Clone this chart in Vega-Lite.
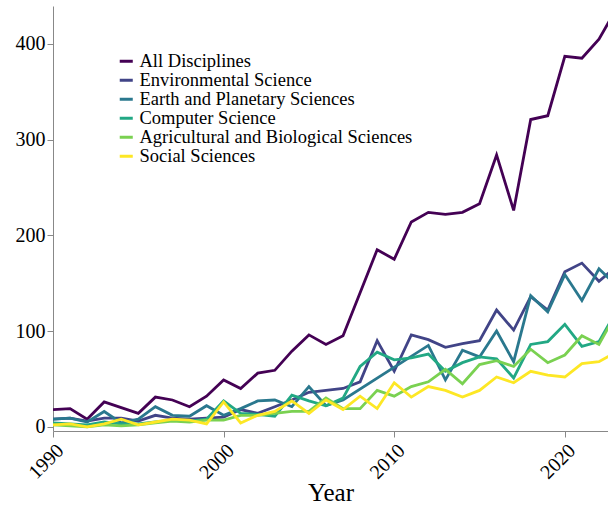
{
  "$schema": "https://vega.github.io/schema/vega-lite/v6.json",
  "autosize": {"type": "none"},
  "padding": {"left": 53, "top": 6, "right": 0, "bottom": 74},
  "width": 555,
  "height": 425,
  "background": "white",
  "config": {
    "font": "Liberation Serif",
    "axis": {"labelFont": "Liberation Serif", "titleFont": "Liberation Serif"},
    "legend": {"labelFont": "Liberation Serif", "titleFont": "Liberation Serif"},
    "view": {"stroke": null}
  },
  "data": {
    "values": [
      {"Year": 1990, "All Disciplines": 18, "Environmental Science": 8, "Earth and Planetary Sciences": 8, "Computer Science": 4, "Agricultural and Biological Sciences": 2, "Social Sciences": 2},
      {"Year": 1991, "All Disciplines": 19, "Environmental Science": 9, "Earth and Planetary Sciences": 9, "Computer Science": 3, "Agricultural and Biological Sciences": 1, "Social Sciences": 3},
      {"Year": 1992, "All Disciplines": 8, "Environmental Science": 6, "Earth and Planetary Sciences": 5, "Computer Science": 2, "Agricultural and Biological Sciences": 0, "Social Sciences": 0},
      {"Year": 1993, "All Disciplines": 26, "Environmental Science": 9, "Earth and Planetary Sciences": 16, "Computer Science": 5, "Agricultural and Biological Sciences": 2, "Social Sciences": 3},
      {"Year": 1994, "All Disciplines": 20, "Environmental Science": 9, "Earth and Planetary Sciences": 4, "Computer Science": 3, "Agricultural and Biological Sciences": 1, "Social Sciences": 8},
      {"Year": 1995, "All Disciplines": 14, "Environmental Science": 6, "Earth and Planetary Sciences": 8, "Computer Science": 3, "Agricultural and Biological Sciences": 2, "Social Sciences": 2},
      {"Year": 1996, "All Disciplines": 31, "Environmental Science": 12, "Earth and Planetary Sciences": 21, "Computer Science": 5, "Agricultural and Biological Sciences": 4, "Social Sciences": 5},
      {"Year": 1997, "All Disciplines": 28, "Environmental Science": 9, "Earth and Planetary Sciences": 12, "Computer Science": 7, "Agricultural and Biological Sciences": 6, "Social Sciences": 8},
      {"Year": 1998, "All Disciplines": 21, "Environmental Science": 8, "Earth and Planetary Sciences": 11, "Computer Science": 6, "Agricultural and Biological Sciences": 5, "Social Sciences": 7},
      {"Year": 1999, "All Disciplines": 32, "Environmental Science": 9, "Earth and Planetary Sciences": 22, "Computer Science": 8, "Agricultural and Biological Sciences": 7, "Social Sciences": 3},
      {"Year": 2000, "All Disciplines": 49, "Environmental Science": 10, "Earth and Planetary Sciences": 12, "Computer Science": 27, "Agricultural and Biological Sciences": 7, "Social Sciences": 26},
      {"Year": 2001, "All Disciplines": 40, "Environmental Science": 18, "Earth and Planetary Sciences": 19, "Computer Science": 14, "Agricultural and Biological Sciences": 12, "Social Sciences": 4},
      {"Year": 2002, "All Disciplines": 56, "Environmental Science": 14, "Earth and Planetary Sciences": 27, "Computer Science": 13, "Agricultural and Biological Sciences": 12, "Social Sciences": 12},
      {"Year": 2003, "All Disciplines": 59, "Environmental Science": 21, "Earth and Planetary Sciences": 28, "Computer Science": 11, "Agricultural and Biological Sciences": 14, "Social Sciences": 16},
      {"Year": 2004, "All Disciplines": 79, "Environmental Science": 28, "Earth and Planetary Sciences": 21, "Computer Science": 33, "Agricultural and Biological Sciences": 16, "Social Sciences": 27},
      {"Year": 2005, "All Disciplines": 96, "Environmental Science": 36, "Earth and Planetary Sciences": 42, "Computer Science": 27, "Agricultural and Biological Sciences": 16, "Social Sciences": 14},
      {"Year": 2006, "All Disciplines": 86, "Environmental Science": 38, "Earth and Planetary Sciences": 22, "Computer Science": 22, "Agricultural and Biological Sciences": 30, "Social Sciences": 28},
      {"Year": 2007, "All Disciplines": 95, "Environmental Science": 40, "Earth and Planetary Sciences": 28, "Computer Science": 30, "Agricultural and Biological Sciences": 19, "Social Sciences": 18},
      {"Year": 2008, "All Disciplines": 140, "Environmental Science": 47, "Earth and Planetary Sciences": null, "Computer Science": 63, "Agricultural and Biological Sciences": 19, "Social Sciences": 32},
      {"Year": 2009, "All Disciplines": 185, "Environmental Science": 90, "Earth and Planetary Sciences": null, "Computer Science": 78, "Agricultural and Biological Sciences": 38, "Social Sciences": 19},
      {"Year": 2010, "All Disciplines": 175, "Environmental Science": 58, "Earth and Planetary Sciences": null, "Computer Science": 70, "Agricultural and Biological Sciences": 32, "Social Sciences": 46},
      {"Year": 2011, "All Disciplines": 214, "Environmental Science": 96, "Earth and Planetary Sciences": null, "Computer Science": 72, "Agricultural and Biological Sciences": 42, "Social Sciences": 31},
      {"Year": 2012, "All Disciplines": 224, "Environmental Science": 91, "Earth and Planetary Sciences": 85, "Computer Science": 76, "Agricultural and Biological Sciences": 47, "Social Sciences": 42},
      {"Year": 2013, "All Disciplines": 222, "Environmental Science": 83, "Earth and Planetary Sciences": 49, "Computer Science": 58, "Agricultural and Biological Sciences": 60, "Social Sciences": 38},
      {"Year": 2014, "All Disciplines": 224, "Environmental Science": 87, "Earth and Planetary Sciences": 80, "Computer Science": 67, "Agricultural and Biological Sciences": 45, "Social Sciences": 31},
      {"Year": 2015, "All Disciplines": 233, "Environmental Science": 90, "Earth and Planetary Sciences": 73, "Computer Science": 73, "Agricultural and Biological Sciences": 65, "Social Sciences": 38},
      {"Year": 2016, "All Disciplines": 284, "Environmental Science": 122, "Earth and Planetary Sciences": 100, "Computer Science": 71, "Agricultural and Biological Sciences": 69, "Social Sciences": 52},
      {"Year": 2017, "All Disciplines": 226, "Environmental Science": 101, "Earth and Planetary Sciences": 68, "Computer Science": 51, "Agricultural and Biological Sciences": 63, "Social Sciences": 46},
      {"Year": 2018, "All Disciplines": 321, "Environmental Science": 136, "Earth and Planetary Sciences": 137, "Computer Science": 86, "Agricultural and Biological Sciences": 81, "Social Sciences": 58},
      {"Year": 2019, "All Disciplines": 325, "Environmental Science": 122, "Earth and Planetary Sciences": 120, "Computer Science": 89, "Agricultural and Biological Sciences": 67, "Social Sciences": 54},
      {"Year": 2020, "All Disciplines": 387, "Environmental Science": 162, "Earth and Planetary Sciences": 159, "Computer Science": 107, "Agricultural and Biological Sciences": 75, "Social Sciences": 52},
      {"Year": 2021, "All Disciplines": 385, "Environmental Science": 171, "Earth and Planetary Sciences": 132, "Computer Science": 84, "Agricultural and Biological Sciences": 95, "Social Sciences": 66},
      {"Year": 2022, "All Disciplines": 405, "Environmental Science": 152, "Earth and Planetary Sciences": 165, "Computer Science": 89, "Agricultural and Biological Sciences": 86, "Social Sciences": 68},
      {"Year": 2023, "All Disciplines": 436, "Environmental Science": 167, "Earth and Planetary Sciences": 148, "Computer Science": 120, "Agricultural and Biological Sciences": 118, "Social Sciences": 78}
    ]
  },
  "transform": [
    {"fold": ["All Disciplines", "Environmental Science", "Earth and Planetary Sciences", "Computer Science", "Agricultural and Biological Sciences", "Social Sciences"], "as": ["Discipline", "Count"]},
    {"filter": "datum.Count != null"}
  ],
  "mark": {"type": "line", "strokeWidth": 2.8, "clip": true, "strokeJoin": "miter"},
  "encoding": {
    "x": {
      "field": "Year", "type": "quantitative",
      "scale": {"domain": [1990, 2022.53], "nice": false, "zero": false},
      "axis": {
        "values": [1990, 2000, 2010, 2020], "format": "d",
        "title": "Year", "titleFontSize": 25, "titleFontWeight": "normal", "titleColor": "black",
        "titleY": 69, "titleBaseline": "alphabetic",
        "labelAngle": -45, "labelFontSize": 20, "labelColor": "black", "labelPadding": 3,
        "grid": false, "domainColor": "#888888", "tickColor": "#888888", "tickSize": 6,
        "labelFlush": false, "labelOverlap": false
      }
    },
    "y": {
      "field": "Count", "type": "quantitative",
      "scale": {"domain": [-4.4, 439.6], "nice": false, "zero": false},
      "axis": {
        "values": [0, 100, 200, 300, 400], "title": null,
        "labelFontSize": 20, "labelColor": "black", "labelPadding": 2,
        "grid": false, "domainColor": "#888888", "tickColor": "#888888", "tickSize": 6,
        "labelFlush": false, "labelOverlap": false
      }
    },
    "color": {
      "field": "Discipline", "type": "nominal",
      "scale": {
        "domain": ["All Disciplines", "Environmental Science", "Earth and Planetary Sciences", "Computer Science", "Agricultural and Biological Sciences", "Social Sciences"],
        "range": ["#440154", "#414487", "#2a788e", "#22a884", "#7ad151", "#fde725"]
      },
      "legend": {
        "title": null, "orient": "none", "legendX": 64, "legendY": 46,
        "symbolType": "stroke", "symbolSize": 170, "symbolStrokeWidth": 3,
        "labelFontSize": 18.5, "labelColor": "black", "labelOffset": 4,
        "rowPadding": 0, "symbolOffset": 0, "labelLimit": 500
      }
    }
  }
}
